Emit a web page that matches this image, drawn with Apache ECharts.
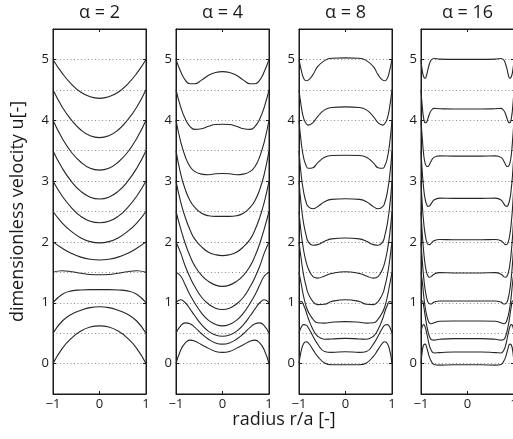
<!DOCTYPE html>
<html>
<head>
<meta charset="utf-8">
<title>Womersley velocity profiles</title>
<script src="https://cdn.jsdelivr.net/npm/echarts@6/dist/echarts.min.js"></script>
<style>
  html, body { margin: 0; padding: 0; background: #fff; }
  #chart { width: 513px; height: 439px; }
</style>
</head>
<body>
<div id="chart"></div>
<script>
// Radial sample positions r/a for each Womersley number
const rA2 = [-1, -0.8, -0.6, -0.4, -0.2, 0, 0.2, 0.4, 0.6, 0.8, 1];
const rA4 = [-1, -0.9, -0.8, -0.7, -0.6, -0.45, -0.3, -0.15, 0, 0.15, 0.3, 0.45, 0.6, 0.7, 0.8, 0.9, 1];
const rA8 = [-1, -0.95, -0.9, -0.85, -0.8, -0.7, -0.6, -0.45, -0.3, 0, 0.3, 0.45, 0.6, 0.7, 0.8, 0.85, 0.9, 0.95, 1];
const rA16 = [-1, -0.97, -0.94, -0.91, -0.88, -0.85, -0.82, -0.78, -0.72, -0.6, -0.3, 0,
              0.3, 0.6, 0.72, 0.78, 0.82, 0.85, 0.88, 0.91, 0.94, 0.97, 1];

// Velocity profiles over one cycle, each shifted up by 0.5 per phase step
const uA2 = [
  [0, 0.25, 0.42, 0.535, 0.6, 0.62, 0.6, 0.535, 0.42, 0.25, 0],
  [0.5, 0.7, 0.81, 0.875, 0.92, 0.934, 0.92, 0.875, 0.81, 0.7, 0.5],
  [1, 1.14, 1.195, 1.21, 1.215, 1.215, 1.215, 1.21, 1.195, 1.14, 1],
  [1.5, 1.525, 1.51, 1.485, 1.465, 1.46, 1.465, 1.485, 1.51, 1.525, 1.5],
  [2, 1.895, 1.81, 1.75, 1.715, 1.703, 1.715, 1.75, 1.81, 1.895, 2],
  [2.5, 2.31, 2.17, 2.065, 2.005, 1.985, 2.005, 2.065, 2.17, 2.31, 2.5],
  [3, 2.75, 2.56, 2.42, 2.34, 2.315, 2.34, 2.42, 2.56, 2.75, 3],
  [3.5, 3.21, 2.99, 2.83, 2.735, 2.705, 2.735, 2.83, 2.99, 3.21, 3.5],
  [4, 3.7, 3.47, 3.31, 3.21, 3.18, 3.21, 3.31, 3.47, 3.7, 4],
  [4.5, 4.215, 4.0, 3.84, 3.745, 3.715, 3.745, 3.84, 4.0, 4.215, 4.5],
  [5, 4.77, 4.59, 4.46, 4.385, 4.36, 4.385, 4.46, 4.59, 4.77, 5]
];

const uA4 = [
  [0, 0.22, 0.34, 0.385, 0.37, 0.31, 0.25, 0.2, 0.185, 0.2, 0.25, 0.31, 0.37, 0.385, 0.34, 0.22, 0],
  [0.5, 0.62, 0.67, 0.655, 0.6, 0.49, 0.4, 0.34, 0.32, 0.34, 0.4, 0.49, 0.6, 0.655, 0.67, 0.62, 0.5],
  [1, 1.05, 1.0, 0.9, 0.79, 0.64, 0.53, 0.47, 0.45, 0.47, 0.53, 0.64, 0.79, 0.9, 1.0, 1.05, 1],
  [1.5, 1.44, 1.29, 1.13, 1.0, 0.83, 0.71, 0.645, 0.62, 0.645, 0.71, 0.83, 1.0, 1.13, 1.29, 1.44, 1.5],
  [2, 1.82, 1.6, 1.42, 1.27, 1.09, 0.98, 0.91, 0.89, 0.91, 0.98, 1.09, 1.27, 1.42, 1.6, 1.82, 2],
  [2.5, 2.22, 1.97, 1.77, 1.61, 1.45, 1.35, 1.29, 1.27, 1.29, 1.35, 1.45, 1.61, 1.77, 1.97, 2.22, 2.5],
  [3, 2.66, 2.4, 2.2, 2.05, 1.92, 1.83, 1.79, 1.775, 1.79, 1.83, 1.92, 2.05, 2.2, 2.4, 2.66, 3],
  [3.5, 3.12, 2.86, 2.68, 2.57, 2.47, 2.43, 2.42, 2.42, 2.42, 2.43, 2.47, 2.57, 2.68, 2.86, 3.12, 3.5],
  [4, 3.65, 3.4, 3.24, 3.16, 3.115, 3.105, 3.12, 3.125, 3.12, 3.105, 3.115, 3.16, 3.24, 3.4, 3.65, 4],
  [4.5, 4.22, 4.02, 3.9, 3.85, 3.86, 3.9, 3.93, 3.935, 3.93, 3.9, 3.86, 3.85, 3.9, 4.02, 4.22, 4.5],
  [5, 4.8, 4.66, 4.6, 4.6, 4.66, 4.74, 4.785, 4.8, 4.785, 4.74, 4.66, 4.6, 4.6, 4.66, 4.8, 5]
];

const uA8 = [
  [0, 0.22, 0.33, 0.36, 0.34, 0.23, 0.12, 0.01, -0.02, -0.02, -0.02, 0.01, 0.12, 0.23, 0.34, 0.36, 0.33, 0.22, 0],
  [0.5, 0.6, 0.64, 0.635, 0.59, 0.45, 0.32, 0.2, 0.185, 0.195, 0.185, 0.2, 0.32, 0.45, 0.59, 0.635, 0.64, 0.6, 0.5],
  [1, 1.02, 0.96, 0.86, 0.74, 0.56, 0.45, 0.4, 0.405, 0.415, 0.405, 0.4, 0.45, 0.56, 0.74, 0.86, 0.96, 1.02, 1],
  [1.5, 1.3, 1.1, 0.95, 0.85, 0.73, 0.67, 0.665, 0.68, 0.69, 0.68, 0.665, 0.67, 0.73, 0.85, 0.95, 1.1, 1.3, 1.5],
  [2, 1.7, 1.45, 1.28, 1.15, 1.02, 0.97, 0.975, 1.02, 1.05, 1.02, 0.975, 0.97, 1.02, 1.15, 1.28, 1.45, 1.7, 2],
  [2.5, 2.12, 1.86, 1.68, 1.56, 1.43, 1.405, 1.44, 1.48, 1.51, 1.48, 1.44, 1.405, 1.43, 1.56, 1.68, 1.86, 2.12, 2.5],
  [3, 2.58, 2.3, 2.12, 2.0, 1.945, 1.955, 2.01, 2.05, 2.065, 2.05, 2.01, 1.955, 1.945, 2.0, 2.12, 2.3, 2.58, 3],
  [3.5, 3.08, 2.82, 2.66, 2.58, 2.545, 2.58, 2.66, 2.7, 2.71, 2.7, 2.66, 2.58, 2.545, 2.58, 2.66, 2.82, 3.08, 3.5],
  [4, 3.62, 3.38, 3.26, 3.21, 3.22, 3.3, 3.39, 3.42, 3.425, 3.42, 3.39, 3.3, 3.22, 3.21, 3.26, 3.38, 3.62, 4],
  [4.5, 4.22, 4.03, 3.95, 3.92, 3.96, 4.06, 4.17, 4.21, 4.22, 4.21, 4.17, 4.06, 3.96, 3.92, 3.95, 4.03, 4.22, 4.5],
  [5, 4.82, 4.69, 4.65, 4.66, 4.75, 4.88, 4.98, 5.02, 5.025, 5.02, 4.98, 4.88, 4.75, 4.66, 4.65, 4.69, 4.82, 5]
];

const uA16 = [
  [0, 0.22, 0.31, 0.32, 0.27, 0.19, 0.11, 0.04, -0.015, -0.025, -0.02, -0.02,
   -0.02, -0.025, -0.015, 0.04, 0.11, 0.19, 0.27, 0.32, 0.31, 0.22, 0],
  [0.5, 0.62, 0.64, 0.6, 0.51, 0.4, 0.3, 0.22, 0.175, 0.18, 0.19, 0.19,
   0.19, 0.18, 0.175, 0.22, 0.3, 0.4, 0.51, 0.6, 0.64, 0.62, 0.5],
  [1, 1.03, 0.93, 0.78, 0.64, 0.53, 0.45, 0.395, 0.385, 0.4, 0.41, 0.41,
   0.41, 0.4, 0.385, 0.395, 0.45, 0.53, 0.64, 0.78, 0.93, 1.03, 1],
  [1.5, 1.33, 1.1, 0.92, 0.8, 0.72, 0.67, 0.655, 0.67, 0.695, 0.7, 0.7,
   0.7, 0.695, 0.67, 0.655, 0.67, 0.72, 0.8, 0.92, 1.1, 1.33, 1.5],
  [2, 1.67, 1.4, 1.21, 1.09, 1.01, 0.985, 0.98, 1.01, 1.03, 1.03, 1.03,
   1.03, 1.03, 1.01, 0.98, 0.985, 1.01, 1.09, 1.21, 1.4, 1.67, 2],
  [2.5, 2.1, 1.82, 1.62, 1.5, 1.44, 1.42, 1.43, 1.47, 1.495, 1.49, 1.49,
   1.49, 1.495, 1.47, 1.43, 1.42, 1.44, 1.5, 1.62, 1.82, 2.1, 2.5],
  [3, 2.58, 2.3, 2.12, 2.01, 1.96, 1.955, 1.98, 2.02, 2.04, 2.035, 2.035,
   2.035, 2.04, 2.02, 1.98, 1.955, 1.96, 2.01, 2.12, 2.3, 2.58, 3],
  [3.5, 3.12, 2.86, 2.7, 2.62, 2.585, 2.59, 2.63, 2.69, 2.72, 2.715, 2.715,
   2.715, 2.72, 2.69, 2.63, 2.59, 2.585, 2.62, 2.7, 2.86, 3.12, 3.5],
  [4, 3.68, 3.42, 3.29, 3.245, 3.24, 3.27, 3.33, 3.39, 3.415, 3.41, 3.41,
   3.41, 3.415, 3.39, 3.33, 3.27, 3.24, 3.245, 3.29, 3.42, 3.68, 4],
  [4.5, 4.2, 4.02, 3.96, 3.97, 4.03, 4.1, 4.16, 4.195, 4.19, 4.185, 4.185,
   4.185, 4.19, 4.195, 4.16, 4.1, 4.03, 3.97, 3.96, 4.02, 4.2, 4.5],
  [5, 4.8, 4.71, 4.69, 4.74, 4.84, 4.92, 4.99, 5.015, 5.005, 5.0, 5.0,
   5.0, 5.005, 5.015, 4.99, 4.92, 4.84, 4.74, 4.69, 4.71, 4.8, 5]
];

const panelTitles = ['α = 2', 'α = 4', 'α = 8', 'α = 16'];
const xTicks = [-1, 0, 1];
const yTickValues = [0, 1, 2, 3, 4, 5];

const radii = [rA2, rA4, rA8, rA16];
const profiles = [uA2, uA4, uA8, uA16];

const gridLefts = [53, 176, 299, 421];
const gridTop = 29;
const gridWidth = 93;
const gridHeight = 365;

const FONT = 'Open Sans';
const INK = '#1a1a1a';

const grids = [];
const xAxes = [];
const yAxes = [];
const series = [];
const titles = [];

const minusSign = v => String(v).replace('-', '\u2212');

gridLefts.forEach((left, i) => {
  grids.push({
    left: left, top: gridTop, width: gridWidth, height: gridHeight,
    outerBoundsMode: 'none', containLabel: false,
    show: true, borderColor: INK, borderWidth: 1, backgroundColor: '#fff'
  });

  const xBase = {
    gridIndex: i, type: 'value', min: -1, max: 1, interval: 1,
    axisLine: { show: true, onZero: false, lineStyle: { color: INK, width: 1 } },
    axisTick: { show: true, inside: true, length: 3, lineStyle: { color: INK } },
    splitLine: { show: false }
  };
  xAxes.push(Object.assign({}, xBase, {
    position: 'bottom',
    axisLabel: {
      show: true, margin: 4, fontFamily: FONT, fontSize: 13, color: INK,
      formatter: minusSign, customValues: xTicks
    }
  }));
  xAxes.push(Object.assign({}, xBase, {
    position: 'top',
    axisLabel: { show: false }
  }));

  const yBase = {
    gridIndex: i, type: 'value', min: -0.5, max: 5.5, interval: 0.5
  };
  // left axis: integer labels and ticks
  yAxes.push(Object.assign({}, yBase, {
    position: 'left',
    axisLine: { show: true, onZero: false, lineStyle: { color: INK, width: 1 } },
    axisTick: { show: true, inside: true, length: 3, customValues: yTickValues, lineStyle: { color: INK } },
    axisLabel: { show: true, margin: 4, fontFamily: FONT, fontSize: 13, color: INK, customValues: yTickValues },
    splitLine: { show: false },
    name: i === 0 ? 'dimensionless velocity u[-]' : '',
    nameLocation: 'middle',
    nameGap: 26,
    nameTextStyle: { fontFamily: FONT, fontSize: 18, color: INK }
  }));
  // right axis: ticks only
  yAxes.push(Object.assign({}, yBase, {
    position: 'right',
    axisLine: { show: true, onZero: false, lineStyle: { color: INK, width: 1 } },
    axisTick: { show: true, inside: true, length: 3, customValues: yTickValues, lineStyle: { color: INK } },
    axisLabel: { show: false },
    splitLine: { show: false }
  }));
  // dotted reference lines every 0.5
  yAxes.push(Object.assign({}, yBase, {
    position: 'left',
    axisLine: { show: false },
    axisTick: { show: false },
    axisLabel: { show: false },
    splitLine: { show: true, lineStyle: { color: '#8c8c8c', width: 1, type: [1, 2.5] } }
  }));

  const r = radii[i];
  profiles[i].forEach(curve => {
    series.push({
      type: 'line',
      xAxisIndex: i * 2,
      yAxisIndex: i * 3,
      data: r.map((x, k) => [x, curve[k]]),
      showSymbol: false,
      smooth: 0.5,
      lineStyle: { color: '#262626', width: 1.1 },
      silent: true,
      animation: false,
      z: 3
    });
  });

  titles.push({
    text: panelTitles[i],
    left: left + gridWidth / 2,
    top: 4,
    padding: 0,
    textAlign: 'center',
    textStyle: { fontFamily: FONT, fontSize: 18, fontWeight: 'normal', color: INK }
  });
});

titles.push({
  text: 'radius r/a [-]',
  left: 284,
  top: 411,
  padding: 0,
  textAlign: 'center',
  textStyle: { fontFamily: FONT, fontSize: 18, fontWeight: 'normal', color: INK }
});

const chart = echarts.init(document.getElementById('chart'), null, { renderer: 'canvas' });
chart.setOption({
  backgroundColor: '#fff',
  animation: false,
  title: titles,
  grid: grids,
  xAxis: xAxes,
  yAxis: yAxes,
  series: series
});
</script>
</body>
</html>
